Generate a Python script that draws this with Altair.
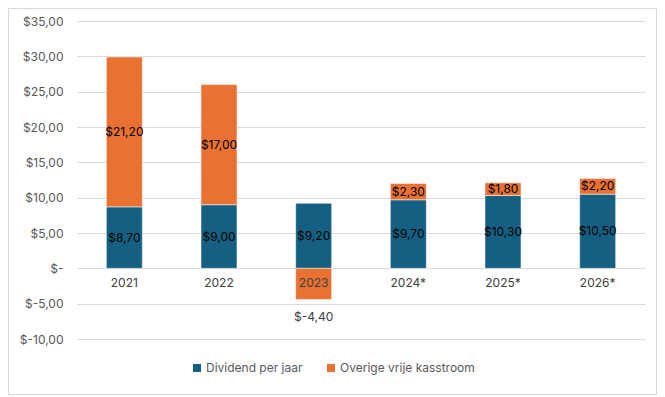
import altair as alt
import pandas as pd

years = ["2021", "2022", "2023", "2024*", "2025*", "2026*"]
dividend = [8.7, 9.0, 9.2, 9.7, 10.3, 10.5]
other = [21.2, 17.0, -4.4, 2.3, 1.8, 2.2]
series_names = ["Dividend per jaar", "Overige vrije kasstroom"]
series_colors = ["#156082", "#E97132"]
y_ticks = [-10, -5, 0, 5, 10, 15, 20, 25, 30, 35]

rows = []
for y, d, o in zip(years, dividend, other):
    rows.append({"year": y, "series": series_names[0], "value": d, "ord": 0})
    rows.append({"year": y, "series": series_names[1], "value": o, "ord": 1})
df = pd.DataFrame(rows)

W, H = 568, 318
FONT = "Inter"
fmt = "'$' + replace(replace(format(datum.value, '.2f'), '.', ','), '\u2212', '-')"

xenc = alt.X("year:N", sort=years, axis=None,
             scale=alt.Scale(paddingInner=0.62, paddingOuter=0.31))
yscale = alt.Scale(domain=[-10, 35], nice=False, zero=False)
yaxis = alt.Axis(values=y_ticks, tickCount=10, grid=True, gridColor="#D9D9D9",
                 domain=False, ticks=False, labelPadding=14, labelOverlap=False,
                 labelColor="#595959", labelFontSize=12, labelFont=FONT, title=None,
                 labelExpr="datum.value == 0 ? '$-' : " + fmt)

base = alt.Chart(df).transform_stack(
    stack="value", groupby=["year"], as_=["v0", "v1"],
    sort=[alt.SortField("ord", order="ascending")]
).transform_calculate(
    mid="(datum.v0 + datum.v1) / 2",
    lo="min(datum.v0, datum.v1)",
    label="'$' + replace(replace(format(datum.value, '.2f'), '.', ','), '\u2212', '-')",
)

bars = base.mark_bar(stroke="white", strokeWidth=0.5).encode(
    x=xenc,
    y=alt.Y("v0:Q", scale=yscale, title=None, axis=yaxis),
    y2="v1:Q",
    color=alt.Color("series:N", scale=alt.Scale(domain=series_names, range=series_colors),
                    legend=alt.Legend(title=None, orient="none", direction="horizontal",
                                      legendX=114, legendY=341, symbolType="square",
                                      symbolSize=64, symbolStrokeWidth=0, labelFont=FONT,
                                      labelFontSize=12, labelColor="#595959",
                                      columnPadding=22, labelOffset=3)),
)

inside = base.transform_filter("datum.value >= 0").mark_text(
    font=FONT, fontSize=12, color="#000000", baseline="middle"
).encode(x=xenc, y=alt.Y("mid:Q", scale=yscale, title=None, axis=yaxis), text="label:N")

outside = base.transform_filter("datum.value < 0").mark_text(
    font=FONT, fontSize=12, color="#404040", baseline="middle", dy=18
).encode(x=xenc, y=alt.Y("lo:Q", scale=yscale, title=None, axis=yaxis), text="label:N")

cats = alt.Chart(df).transform_filter("datum.ord == 0").mark_text(
    font=FONT, fontSize=12, color="#404040", baseline="middle", dy=15
).encode(x=xenc, y=alt.datum(0, scale=yscale, axis=yaxis), text="year:N")

border = alt.Chart(alt.Data(values=[{"a": 1}])).mark_rect(
    filled=False, stroke="#D9D9D9", strokeWidth=1
).encode(x=alt.value(-68.5), x2=alt.value(W + 11.5),
         y=alt.value(-12.5), y2=alt.value(H + 55.5))

chart = alt.layer(bars, inside, outside, cats, border).properties(
    width=W, height=H,
    autosize=alt.AutoSizeParams(type="none"),
    padding={"left": 69, "top": 13, "right": 12, "bottom": 57},
    background="white",
).configure_view(stroke=None)

chart.save("out.html", embed_options={"renderer": "svg", "actions": False})
